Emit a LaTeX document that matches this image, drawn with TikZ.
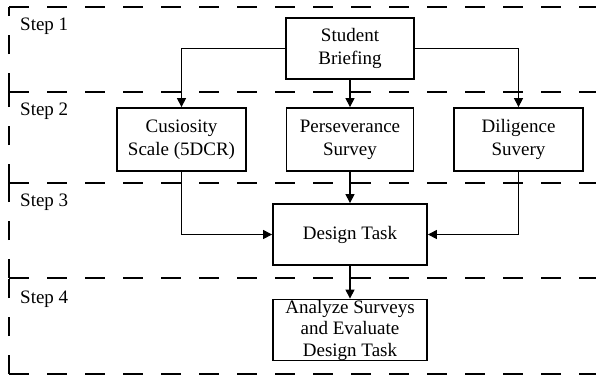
\documentclass[tikz,border=0pt]{standalone}
\usepackage{fontspec}
\setmainfont{Liberation Serif}
\usetikzlibrary{arrows.meta}
\begin{document}
\begin{tikzpicture}[x=1pt,y=-1pt,
  band/.style={line width=1.2pt,dash pattern=on 19.5pt off 18.5pt},
  box/.style={draw,line width=1.8pt,align=center,inner sep=0pt,
    font=\fontsize{19}{23}\selectfont},
  conn/.style={line width=1.1pt,-{Triangle[length=9pt,width=9pt]}},
  steplbl/.style={anchor=base west,inner sep=0pt,font=\fontsize{19}{23}\selectfont}]
\useasboundingbox (0,0) rectangle (596,376);
\begin{scope}
\clip (0,0) rectangle (596,376);
% bands
\draw[band] (9,7) -- (620,7);
\draw[band] (9,92) -- (9,7);
\draw[band] (9,92) -- (620,92);
\draw[band] (9,183) -- (9,92);
\draw[band] (9,183) -- (620,183);
\draw[band] (9,278) -- (9,183);
\draw[band] (9,278) -- (620,278);
\draw[band] (9,374) -- (9,278);
\draw[band] (9,374) -- (620,374);
\end{scope}
% step labels
\node[steplbl] (s1) at (20,30) {Step 1};
\node[steplbl] (s2) at (20,115) {Step 2};
\node[steplbl] (s3) at (20,206) {Step 3};
\node[steplbl] (s4) at (20,303) {Step 4};
% boxes
\node[box,minimum width=128pt,minimum height=61pt] (brief) at (350,48.5) {Student\\Briefing};
\node[box,minimum width=129pt,minimum height=63pt] (cur) at (181.5,139.5) {Cusiosity\\Scale (5DCR)};
\node[box,minimum width=127pt,minimum height=63pt] (per) at (350,139.5) {Perseverance\\Survey};
\node[box,minimum width=129pt,minimum height=63pt] (dil) at (518.5,139.5) {Diligence\\Suvery};
\node[box,minimum width=154pt,minimum height=61pt] (design) at (350,234.5) {Design Task};
\node[box,minimum width=154pt,minimum height=61pt,font=\fontsize{19}{21.5}\selectfont] (ana) at (350,330) {Analyze Surveys\\and Evaluate\\Design Task};
% connectors
\draw[conn] (brief.west) -| (cur.north);
\draw[conn] (brief.south) -- (per.north);
\draw[conn] (brief.east) -| (dil.north);
\draw[conn] (cur.south) |- (design.west);
\draw[conn] (per.south) -- (design.north);
\draw[conn] (dil.south) |- (design.east);
\draw[conn] (design.south) -- (ana.north);
\end{tikzpicture}
\end{document}
